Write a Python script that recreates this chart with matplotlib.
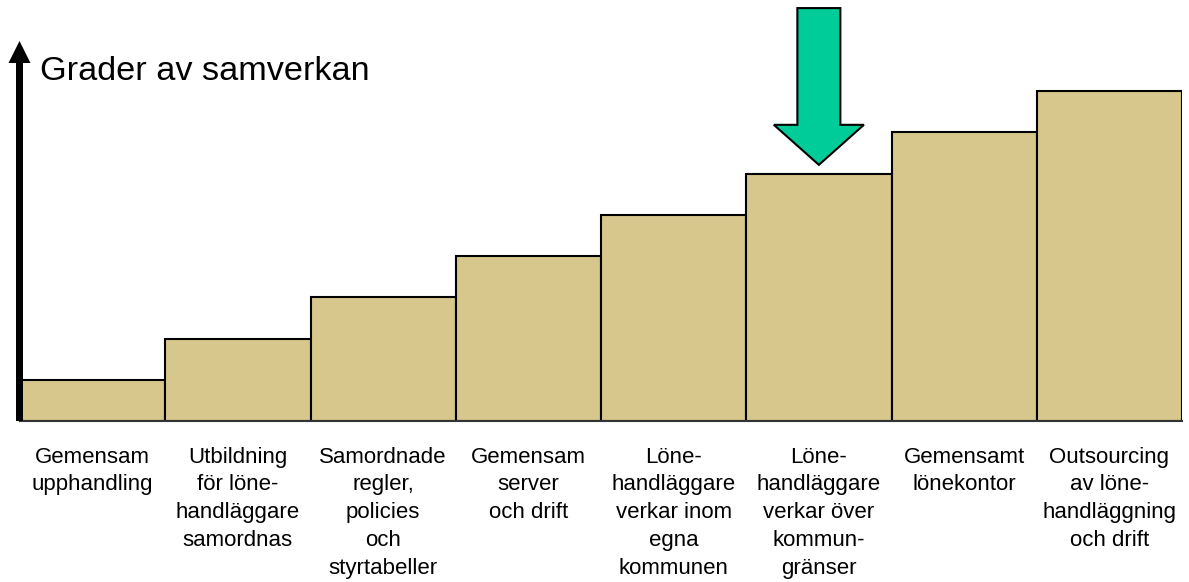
#!/usr/bin/env python3
"""Staircase chart: grader av samverkan"""

import matplotlib
matplotlib.use('Agg')
import matplotlib.pyplot as plt
from matplotlib.patches import FancyArrow
from matplotlib.transforms import IdentityTransform

plt.rcParams['font.family'] = ['Liberation Sans', 'DejaVu Sans']

# Data
steps = [
    'Gemensam\nupphandling',
    'Utbildning\nför löne-\nhandläggare\nsamordnas',
    'Samordnade\nregler,\npolicies\noch\nstyrtabeller',
    'Gemensam\nserver\noch drift',
    'Löne-\nhandläggare\nverkar inom\negna\nkommunen',
    'Löne-\nhandläggare\nverkar över\nkommun-\ngränser',
    'Gemensamt\nlönekontor',
    'Outsourcing\nav löne-\nhandläggning\noch drift',
]
levels = [1, 2, 3, 4, 5, 6, 7, 8]
highlight = 5  # index of the step marked with the green arrow
title = 'Grader av samverkan'

W, H = 1189, 582
fig = plt.figure(figsize=(W / 100, H / 100), dpi=100)
ax = fig.add_axes([20 / W, (H - 421) / H, 1162 / W, 421 / H])

x = list(range(len(levels)))
ax.bar(x, levels, width=1.0, color='#D8C78C', edgecolor='black', linewidth=1.5, zorder=2)

ax.set_xlim(-0.5, len(levels) - 0.5)
ax.set_ylim(0, 421 / 41.25)

for s in ['left', 'top', 'right']:
    ax.spines[s].set_visible(False)
ax.spines['bottom'].set_color('#333333')
ax.spines['bottom'].set_linewidth(1.5)
ax.spines['bottom'].set_zorder(3)
ax.set_yticks([])
ax.set_xticks(x)
ax.set_xticklabels(steps, fontsize=16, linespacing=1.42)
ax.tick_params(axis='x', direction='in', length=4, width=1, color='#333333', pad=18.5)

# Green arrow pointing at the highlighted step
top = 10.01
tip = levels[highlight] + 0.21
ax.add_patch(FancyArrow(highlight, top, 0, tip - top, width=0.296, head_width=0.62,
                        head_length=0.97, length_includes_head=True,
                        facecolor='#00CC99', edgecolor='black', linewidth=1.5,
                        clip_on=False, zorder=5))

# Vertical axis arrow (figure pixels)
fig.add_artist(FancyArrow(19.5, H - 421, 0, 380, width=7, head_width=22,
                          head_length=22, length_includes_head=True,
                          facecolor='black', edgecolor='black', linewidth=0,
                          transform=IdentityTransform(), zorder=6))

fig.text(40 / W, 1 - 80 / H, title, fontsize=24.7, va='baseline', ha='left')

plt.savefig('out.png', dpi=100, facecolor='white')
